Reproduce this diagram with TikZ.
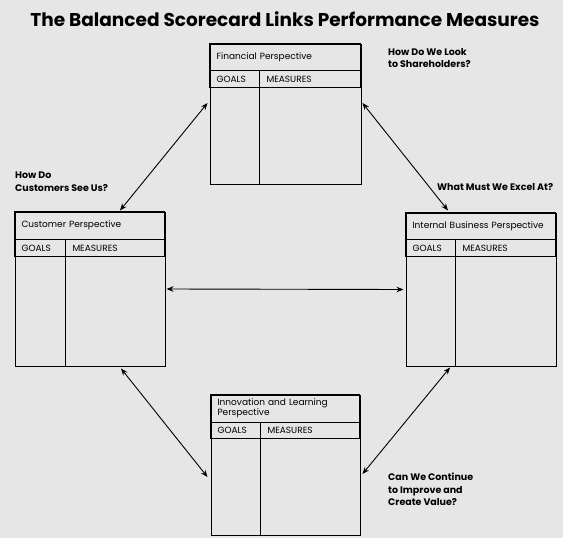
\documentclass[tikz,border=0pt]{standalone}
\usepackage{fontspec}
\setmainfont{Poppins}
\usepackage{tikz}
\usetikzlibrary{arrows.meta}
\usepackage{xcolor}
\definecolor{bggray}{RGB}{230,230,230}

\tikzset{
  card/.style={draw,line width=1pt,inner sep=0pt},
  cell/.style={draw,line width=1pt,inner xsep=7pt,inner ysep=0pt,outer sep=0pt,align=left,
    font=\fontsize{9}{10}\selectfont},
  quest/.style={inner sep=0pt,align=left,anchor=north west,
    font=\bfseries\fontsize{9.5}{12.5}\selectfont},
  link/.style={line width=0.9pt,{Stealth[length=7pt,width=5.5pt]}-{Stealth[length=7pt,width=5.5pt]}}
}

\begin{document}
\begin{tikzpicture}[x=1pt,y=-1pt]
%background
\fill[bggray] (0,0) rectangle (563,538);
\useasboundingbox (0,0) rectangle (563,538);

%title
\node[anchor=base,font=\bfseries\fontsize{18.5}{20}\selectfont] (title) at (285,27)
  {The Balanced Scorecard Links Performance Measures};

%financial
\node[card,minimum width=151pt,minimum height=140pt] (fin) at (285.5,114) {};
\node[cell,anchor=north west,text width=137pt,minimum height=27pt] (fintitle) at (fin.north west) {Financial Perspective};
\node[cell,anchor=north west,text width=36pt,minimum height=17pt] (fingoals) at (fintitle.south west) {GOALS};
\node[cell,anchor=north west,text width=87pt,minimum height=17pt] (finmeas) at (fingoals.north east) {MEASURES};
\draw[line width=1pt] (fingoals.south east) -- (fingoals.south east |- fin.south);

%customer
\node[card,minimum width=150pt,minimum height=154pt] (cust) at (90,289) {};
\node[cell,anchor=north west,text width=136pt,minimum height=28pt] (custtitle) at (cust.north west) {Customer Perspective};
\node[cell,anchor=north west,text width=37pt,minimum height=17pt] (custgoals) at (custtitle.south west) {GOALS};
\node[cell,anchor=north west,text width=85pt,minimum height=17pt] (custmeas) at (custgoals.north east) {MEASURES};
\draw[line width=1pt] (custgoals.south east) -- (custgoals.south east |- cust.south);

%internal
\node[card,minimum width=150pt,minimum height=153pt] (int) at (481,289.5) {};
\node[cell,anchor=north west,text width=136pt,minimum height=27pt] (inttitle) at (int.north west) {Internal Business Perspective};
\node[cell,anchor=north west,text width=36pt,minimum height=17pt] (intgoals) at (inttitle.south west) {GOALS};
\node[cell,anchor=north west,text width=86pt,minimum height=17pt] (intmeas) at (intgoals.north east) {MEASURES};
\draw[line width=1pt] (intgoals.south east) -- (intgoals.south east |- int.south);

%innovation
\node[card,minimum width=149pt,minimum height=140pt] (inno) at (285.5,465) {};
\node[cell,anchor=north west,text width=135pt,minimum height=28pt] (innotitle) at (inno.north west) {Innovation and Learning\\Perspective};
\node[cell,anchor=north west,text width=36pt,minimum height=16pt] (innogoals) at (innotitle.south west) {GOALS};
\node[cell,anchor=north west,text width=85pt,minimum height=16pt] (innomeas) at (innogoals.north east) {MEASURES};
\draw[line width=1pt] (innogoals.south east) -- (innogoals.south east |- inno.south);

%questions
\node[quest] (qfin) at (388,48) {How Do We Look\\to Shareholders?};
\node[quest] (qcust) at (15,172) {How Do\\Customers See Us?};
\node[quest] (qint) at (437,183) {What Must We Excel At?};
\node[quest] (qinno) at (388,473) {Can We Continue\\to Improve and\\Create Value?};

%links
\draw[link] ([yshift=11pt,xshift=-2pt]fin.west) -- ([xshift=30pt,yshift=1pt]cust.north);
\draw[link] ([yshift=11pt,xshift=1pt]fin.east) -- ([xshift=-33pt,yshift=2pt]int.north);
\draw[link] ([xshift=1pt]cust.east) -- ([xshift=-2pt]int.west);
\draw[link] ([xshift=31pt,yshift=-2pt]cust.south) -- ([yshift=-12pt,xshift=-3pt]inno.west);
\draw[link] ([yshift=-9pt,xshift=2pt]inno.east) -- ([xshift=-31pt,yshift=-1pt]int.south);
\end{tikzpicture}
\end{document}
